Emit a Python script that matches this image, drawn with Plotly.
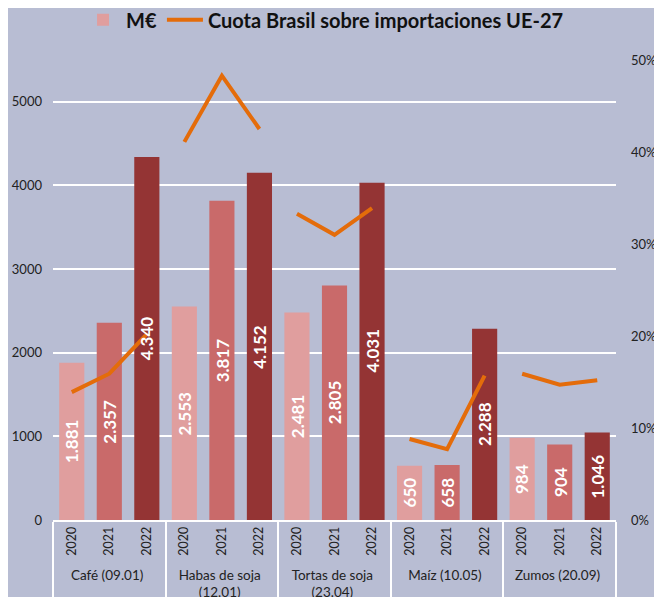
import plotly.graph_objects as go

groups = ["Café (09.01)", "Habas de soja<br>(12.01)", "Tortas de soja<br>(23.04)", "Maíz (10.05)", "Zumos (20.09)"]
years = ["2020", "2021", "2022"]
values = [
    [1881, 2357, 4340],
    [2553, 3817, 4152],
    [2481, 2805, 4031],
    [650, 658, 2288],
    [984, 904, 1046],
]
share = [
    [0.139, 0.159, 0.202],
    [0.411, 0.483, 0.425],
    [0.333, 0.310, 0.339],
    [0.088, 0.077, 0.157],
    [0.159, 0.147, 0.152],
]
year_colors = ["#E09E9E", "#C96A6A", "#943434"]
bg = "#B8BDD3"


def glabel(g):
    return '<span style="font-size:13.5px">' + g + "</span>"


xg, xy, yv, cols, txt = [], [], [], [], []
for g, vals in zip(groups, values):
    for i, (yr, v) in enumerate(zip(years, vals)):
        xg.append(glabel(g)); xy.append(yr); yv.append(v); cols.append(year_colors[i])
        txt.append(f"{v:,}".replace(",", "."))

fig = go.Figure()
fig.add_trace(go.Bar(
    x=[xg, xy], y=yv, name="M€", marker=dict(color=cols, line=dict(width=0)),
))
for k, (g, s) in enumerate(zip(groups, share)):
    fig.add_trace(go.Scatter(
        x=[[glabel(g)] * 3, years], y=s, yaxis="y2", mode="lines",
        line=dict(color="#E46C0A", width=4),
        name="Cuota Brasil sobre importaciones UE-27",
        legendgroup="cuota", showlegend=(k == 0),
    ))

# value labels: rotated white text centred in each bar
for idx, (v, t) in enumerate(zip(yv, txt)):
    fig.add_annotation(x=idx, y=v / 2, xref="x", yref="y", text=t, textangle=-90,
                       showarrow=False,
                       font=dict(color="white", size=17, family="Lato", weight="bold"))

# the page body has an 8px margin, so the figure is sized to fit the window
fig.update_layout(
    width=654, height=589,
    paper_bgcolor=bg, plot_bgcolor=bg,
    margin=dict(l=45, r=46, t=52, b=77, autoexpand=False),
    bargap=0.33,
    font=dict(family="Lato", color="#222222", size=12),
    legend=dict(orientation="h", xref="container", yref="container",
                x=0.484, xanchor="center", y=0.98, yanchor="middle",
                font=dict(size=20, weight="bold", color="#111111"),
                bgcolor="rgba(0,0,0,0)", itemwidth=36),
    xaxis=dict(type="multicategory", tickangle=-90, showline=True, linecolor="white",
               linewidth=1.5, showdividers=True, dividercolor="white", dividerwidth=1.5,
               tickfont=dict(size=12.5, color="#222222"), ticks="", automargin=False),
    yaxis=dict(range=[0, 5500], tickvals=[0, 1000, 2000, 3000, 4000, 5000],
               showgrid=True, gridcolor="white", gridwidth=1.5, zeroline=False,
               ticks="", ticklabelstandoff=10, tickfont=dict(size=13), automargin=False),
    yaxis2=dict(range=[0, 0.5], overlaying="y", side="right", tickformat=".0%",
                tickvals=[0, 0.1, 0.2, 0.3, 0.4, 0.5], showgrid=False, zeroline=False,
                ticks="", ticklabelstandoff=14, tickfont=dict(size=13), automargin=False),
)
fig.write_html("out.html")
